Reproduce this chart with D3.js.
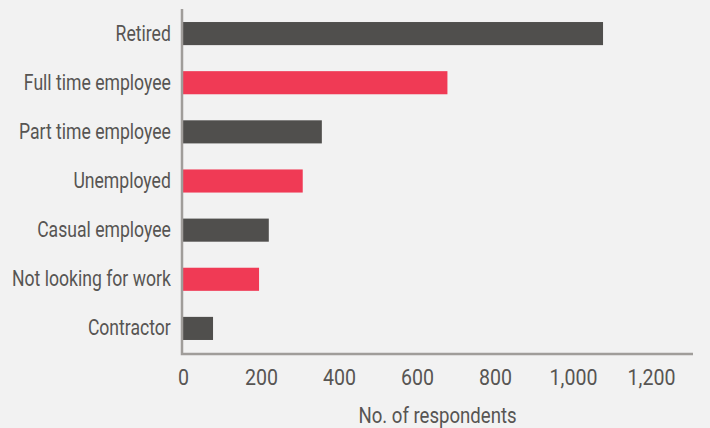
<!DOCTYPE html>
<html>
<head>
<meta charset="utf-8">
<script src="https://cdn.jsdelivr.net/npm/d3@7"></script>
<style>
  html, body { margin: 0; padding: 0; background: #f2f2f2; }
  svg { display: block; }
  text { font-family: Roboto, "Noto Sans", sans-serif; fill: #575553; }
</style>
</head>
<body>
<svg id="chart" width="710" height="428"></svg>
<script>
const categories = ["Retired", "Full time employee", "Part time employee", "Unemployed", "Casual employee", "Not looking for work", "Contractor"];
const values = [1077, 678, 356, 307, 220, 195, 77];
const barColors = ["#504f4d", "#f03a55", "#504f4d", "#f03a55", "#504f4d", "#f03a55", "#504f4d"];
const tickValues = [0, 200, 400, 600, 800, 1000, 1200];
const xTitle = "No. of respondents";

const W = 710, H = 428;
const plot = { left: 182, right: 693, top: 9, bottom: 354 };
const fontSize = "22px";

const svg = d3.select("#chart");

const x = d3.scaleLinear().domain([0, 1200]).range([183, 651]);
const y = d3.scaleBand().domain(categories).range([9, 353]).paddingInner(0.53).paddingOuter(0.265);

// bars
svg.append("g").selectAll("rect").data(categories).join("rect")
  .attr("x", x(0))
  .attr("y", d => y(d))
  .attr("width", (d, i) => x(values[i]) - x(0))
  .attr("height", y.bandwidth())
  .attr("fill", (d, i) => barColors[i]);

// axis lines
svg.append("path")
  .attr("d", `M${plot.left},${plot.top}V${plot.bottom}H${plot.right}`)
  .attr("fill", "none")
  .attr("stroke", "#a09d9a")
  .attr("stroke-width", 2.5);

// y labels
const yAxis = d3.axisLeft(y).tickSize(0).tickPadding(14);
const gy = svg.append("g").attr("transform", `translate(${plot.left},0)`).call(yAxis);
gy.select(".domain").remove();
gy.selectAll("text")
  .style("font-size", fontSize)
  .attr("fill", "#575553")
  .attr("dy", "0.32em")
  .attr("transform", "scale(0.80,1)");

// x labels
const xAxis = d3.axisBottom(x).tickValues(tickValues).tickSize(0).tickPadding(15)
  .tickFormat(d3.format(","));
const gx = svg.append("g").attr("transform", `translate(0,${plot.bottom})`).call(xAxis);
gx.select(".domain").remove();
gx.selectAll("text")
  .style("font-size", fontSize)
  .attr("fill", "#575553")
  .attr("transform", "scale(0.89,1)");

// x title
svg.append("text")
  .attr("transform", `translate(${(plot.left + plot.right) / 2},423) scale(0.845,1)`)
  .attr("text-anchor", "middle")
  .style("font-size", fontSize)
  .text(xTitle);
</script>
</body>
</html>
